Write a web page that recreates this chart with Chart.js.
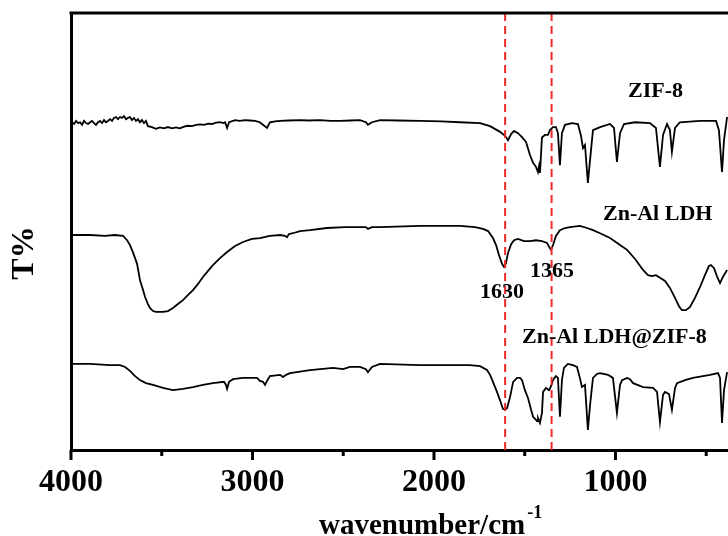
<!DOCTYPE html>
<html><head><meta charset="utf-8">
<script src="https://cdn.jsdelivr.net/npm/chart.js@4"></script>
<style>html,body{margin:0;padding:0;background:#fff}#c{display:block}</style>
</head><body>
<canvas id="c" width="728" height="536"></canvas>
<script>
// ---- data (wavenumber in cm^-1, transmittance offset in arbitrary T% units) ----
const SERIES_NAMES = ['ZIF-8', 'Zn-Al LDH', 'Zn-Al LDH@ZIF-8'];

const WN_ZIF8 = [3994,3983,3972,3961,3950,3939,3928,3917,3906,3895,3884,3873,3862,3851,3840,3829,3818,3807,3796,3785,
  3774,3763,3752,3741,3730,3719,3708,3697,3686,3675,3664,3653,3642,3631,3620,3609,3598,3587,3576,
  3554,3532,3510,3488,3466,3444,3421,3400,3377,3355,3333,3311,3289,3267,3245,3223,3201,3179,3160,3151,3140,3129,
  3096,3070,3041,3015,2986,2960,2948,2920,2904,2875,2848,2800,2738,2690,2628,2570,2518,2460,2408,2375,2364,2342,2297,
  2200,2077,1960,1857,1746,1691,1636,1608,1592,
  1575,1559,1537,1515,1493,1471,1454,1438,1427,1421,1416,1405,1388,1372,1361,1344,1328,1317,1306,1295,1278,
  1240,1207,1190,1179,1168,1152,1140,1124,1085,1030,1008,992,975,953,892,810,777,755,738,716,700,689,672,645,534,446,430,413,402,385];
const T_ZIF8 = [75.0,74.6,75.3,74.8,75.0,74.4,75.3,74.8,74.6,75.0,75.3,74.8,74.4,75.0,75.3,74.8,75.5,75.0,75.3,75.7,
  75.3,76.0,76.2,75.7,76.2,76.0,76.4,75.7,76.0,76.2,75.5,76.0,75.3,75.7,75.0,75.5,74.8,75.3,74.1,
  73.9,73.5,73.8,73.6,73.9,73.6,73.8,73.6,74.0,74.2,74.1,74.4,74.5,74.4,74.7,74.6,74.9,75.0,74.8,75.0,73.7,75.0,
  75.5,75.3,75.5,75.4,75.3,75.0,74.6,73.7,75.0,75.2,75.3,75.4,75.5,75.4,75.5,75.3,75.3,75.4,75.5,75.0,74.4,75.0,75.5,
  75.4,75.3,75.2,75.0,74.8,74.1,72.8,71.9,70.9,
  72.3,73.0,72.5,71.6,70.5,67.5,65.7,64.8,63.6,65.0,63.4,71.5,72.1,72.1,73.2,73.9,73.9,72.5,65.2,72.5,74.4,
  74.8,74.6,71.9,69.1,69.8,61.1,66.4,73.2,73.9,74.6,73.7,65.9,72.5,74.6,75.0,74.8,73.7,64.8,72.1,74.6,73.2,68.2,73.7,75.0,75.3,75.3,73.2,63.6,70.9,76.2];

const WN_LDH = [3994,3895,3813,3758,3713,3691,3675,3664,3647,3636,
  3620,3603,3592,3576,3565,3548,3532,3493,3466,3438,
  3411,3383,3355,3328,3300,3273,3245,3218,3179,3140,
  3096,3052,3003,2959,2904,2848,2821,2810,2799,2777,
  2738,2683,2589,2490,2408,2375,2364,2342,2297,2077,
  1857,1774,1730,1702,1675,1658,1642,1625,1614,1603,
  1592,1575,1559,1537,1504,1471,1438,1405,1377,1366,
  1355,1344,1328,1306,1278,1251,1196,1157,1124,1085,
  1030,975,936,892,848,821,799,777,755,727,
  700,672,650,634,612,590,562,534,507,485,
  474,457,441,424,408,385];
const T_LDH = [49.2,49.2,49.0,49.2,49.0,48.0,46.9,45.8,43.9,42.6,
  38.9,36.6,35.0,33.4,32.5,31.8,31.6,31.6,31.8,32.5,
  33.4,34.3,35.5,36.6,38.0,39.6,41.0,42.3,43.9,45.3,
  46.7,47.6,48.3,48.5,49.0,49.2,49.0,48.7,49.4,49.6,
  50.1,50.3,50.8,51.0,51.0,51.0,50.6,51.0,51.0,51.3,
  51.3,51.0,50.6,50.1,48.5,46.9,44.6,42.6,41.9,42.8,
  45.1,47.1,48.0,48.3,47.8,47.8,48.0,47.8,47.4,46.5,
  45.8,46.9,49.0,50.3,50.8,51.0,51.3,50.8,50.3,49.6,
  48.5,46.9,45.8,43.7,41.2,40.0,39.8,40.0,39.4,38.7,
  37.1,34.8,32.9,32.0,32.0,32.7,34.8,37.3,40.0,42.1,
  42.3,41.6,39.8,38.2,39.6,41.2];

const WN_COMP = [3994,3895,3785,3730,3702,3675,3647,3620,3587,3548,
  3493,3438,3383,3328,3273,3218,3157,3146,3140,3129,
  3107,3052,2975,2959,2942,2931,2920,2904,2848,2832,
  2815,2793,2683,2556,2501,2463,2408,2375,2364,2342,
  2297,2077,1802,1746,1708,1691,1675,1653,1636,1620,
  1608,1597,1581,1564,1542,1526,1515,1499,1482,1465,
  1454,1443,1432,1427,1416,1405,1399,1383,1366,1355,
  1344,1328,1317,1306,1295,1284,1262,1234,1212,1196,
  1185,1168,1152,1140,1124,1102,1085,1041,1014,992,
  975,964,936,920,903,848,793,771,755,738,
  727,705,689,672,661,617,573,479,435,424,
  413,402,385];
const T_COMP = [19.7,19.7,19.4,19.4,19.0,18.1,16.9,16.0,15.3,14.9,
  14.2,13.7,14.0,14.4,14.9,15.3,15.6,14.9,14.0,15.6,
  16.2,16.5,16.5,15.8,15.6,14.9,15.8,16.9,17.2,16.7,
  17.2,17.6,18.3,18.8,18.5,19.0,19.0,18.5,17.8,19.0,
  19.7,19.4,19.4,19.2,18.3,17.2,15.6,13.3,11.4,9.4,
  9.2,9.6,12.1,15.6,16.5,16.5,16.0,13.7,11.9,9.2,
  7.6,7.1,6.6,7.3,6.2,8.5,13.3,14.2,13.7,14.6,
  16.0,16.9,16.5,7.6,16.0,18.8,19.7,19.4,19.0,16.5,
  14.4,14.9,4.6,10.3,16.5,17.4,17.6,17.2,16.5,8.5,
  14.9,16.0,16.5,16.2,15.3,14.4,14.2,13.3,6.4,12.6,
  13.3,12.8,9.2,14.2,15.3,16.0,16.5,17.2,17.6,16.5,
  6.2,13.7,17.8];

const MARKER_WN = [1608, 1352];
const MARKER_LABELS = ['1630', '1365'];
const X_TICKS = [4000, 3500, 3000, 2500, 2000, 1500, 1000, 500];
const X_TICK_LABELS = ['4000', '', '3000', '', '2000', '', '1000', ''];
const X_RANGE = [380, 4000];
const Y_RANGE = [0, 100];

// ---- rendering ----
const FONT = '"Liberation Serif", "Times New Roman", serif';
const toXY = (xs, ys) => xs.map((x, i) => ({x, y: ys[i]}));
const lineDs = (name, xs, ys) => ({label: name, data: toXY(xs, ys), borderColor: '#000', borderWidth: 1.8,
  pointRadius: 0, tension: 0, fill: false});
const markerDs = (wn) => ({label: 'marker ' + wn, data: [{x: wn, y: Y_RANGE[0]}, {x: wn, y: Y_RANGE[1]}],
  borderColor: '#f02828', borderWidth: 2, borderDash: [8, 5], pointRadius: 0, fill: false});

const decorPlugin = {
  id: 'decor',
  afterDraw(chart) {
    const ctx = chart.ctx, a = chart.chartArea, xs = chart.scales.x;
    ctx.save();
    ctx.strokeStyle = '#000';
    ctx.lineWidth = 3;
    ctx.beginPath(); ctx.moveTo(a.left - 1.5, a.top); ctx.lineTo(a.right, a.top); ctx.stroke();
    xs.ticks.forEach(t => {
      const px = xs.getPixelForValue(t.value);
      const len = (t.value % 1000 === 0) ? 10 : 6;
      ctx.beginPath(); ctx.moveTo(px, a.bottom); ctx.lineTo(px, a.bottom + len); ctx.stroke();
    });
    ctx.fillStyle = '#000';
    ctx.textBaseline = 'alphabetic';
    ctx.font = 'bold 22px ' + FONT;
    ctx.textAlign = 'left';
    ctx.fillText(SERIES_NAMES[0], 628, 97);
    ctx.fillText(SERIES_NAMES[1], 603, 220);
    ctx.fillText(SERIES_NAMES[2], 522, 343);
    ctx.fillText(MARKER_LABELS[0], 480, 298);
    ctx.fillText(MARKER_LABELS[1], 530, 277);
    ctx.save();
    ctx.translate(33, 253); ctx.rotate(-Math.PI / 2);
    ctx.textAlign = 'center';
    ctx.font = 'bold 32px ' + FONT;
    ctx.fillText('T%', 0, 0);
    ctx.restore();
    ctx.textAlign = 'left';
    ctx.font = 'bold 29px ' + FONT;
    const main = 'wavenumber/cm';
    const w = ctx.measureText(main).width;
    const x0 = 319;
    ctx.fillText(main, x0, 534);
    ctx.font = 'bold 18px ' + FONT;
    ctx.fillText('-1', x0 + w + 2, 518);
    ctx.restore();
  }
};

new Chart(document.getElementById('c'), {
  type: 'line',
  data: {datasets: [
    markerDs(MARKER_WN[0]), markerDs(MARKER_WN[1]),
    lineDs(SERIES_NAMES[0], WN_ZIF8, T_ZIF8),
    lineDs(SERIES_NAMES[1], WN_LDH, T_LDH),
    lineDs(SERIES_NAMES[2], WN_COMP, T_COMP)
  ]},
  options: {
    responsive: false, animation: false, devicePixelRatio: 1,
    layout: {padding: {top: 13, right: 0, bottom: 0, left: 0}},
    plugins: {legend: {display: false}, tooltip: {enabled: false}},
    scales: {
      x: {type: 'linear', reverse: true, min: X_RANGE[0], max: X_RANGE[1],
        afterBuildTicks: s => { s.ticks = X_TICKS.map(v => ({value: v})); },
        afterFit: s => { s.height = 86; },
        grid: {display: true, drawOnChartArea: false, drawTicks: false},
        border: {display: true, color: '#000', width: 3},
        ticks: {color: '#000', font: {family: FONT, size: 32, weight: 'bold'}, padding: 14,
          maxRotation: 0, autoSkip: false, callback: v => X_TICK_LABELS[X_TICKS.indexOf(v)]}
      },
      y: {min: Y_RANGE[0], max: Y_RANGE[1],
        afterFit: s => { s.width = 71; },
        grid: {display: false},
        border: {display: true, color: '#000', width: 3},
        ticks: {display: false}
      }
    }
  },
  plugins: [decorPlugin]
});
</script>
</body></html>
